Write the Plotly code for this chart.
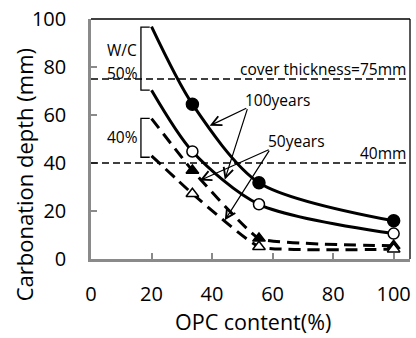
import plotly.graph_objects as go

# ---- data ----
opc_line = [20, 33.5, 55.5, 100]          # curve nodes (OPC %)
opc_pts = [33.5, 55.5, 100]               # measured points

y100_wc50_line = [96.8, 64.5, 31.8, 15.9]  # solid, filled circle
y100_wc50_pts = [64.5, 31.8, 15.9]
y100_wc40_line = [70.3, 44.8, 22.8, 10.6]  # solid, open circle
y100_wc40_pts = [44.8, 22.8, 10.6]
y50_wc50_line = [58.5, 36.9, 8.6, 5.5]     # dashed, filled triangle
y50_wc50_pts = [36.9, 8.6, 5.5]
y50_wc40_line = [43.0, 27.2, 5.1, 4.1]     # dashed, open triangle
y50_wc40_pts = [27.2, 5.1, 4.1]

x_ticks = [0, 20, 40, 60, 80, 100]
y_ticks = [0, 20, 40, 60, 80, 100]
cover_depth = 75
ref_depth = 40

FONT = "Open Sans"
fig = go.Figure()

def curve(y, dash, smooth):
    fig.add_trace(go.Scatter(x=opc_line, y=y, mode="lines", line_shape="spline",
                             line=dict(color="black", width=3, dash=dash, smoothing=smooth),
                             showlegend=False, hoverinfo="skip"))

curve(y100_wc50_line, "solid", 0.8)
curve(y100_wc40_line, "solid", 0.8)
curve(y50_wc50_line, "12px,7px", 0.35)
curve(y50_wc40_line, "12px,7px", 0.35)

fig.add_trace(go.Scatter(x=opc_pts, y=y100_wc50_pts, mode="markers",
                         marker=dict(symbol="circle", size=12, color="black",
                                     line=dict(color="black", width=1.5)), showlegend=False))
fig.add_trace(go.Scatter(x=opc_pts, y=y100_wc40_pts, mode="markers",
                         marker=dict(symbol="circle", size=11, color="white",
                                     line=dict(color="black", width=1.5)), showlegend=False))
fig.add_trace(go.Scatter(x=opc_pts, y=y50_wc50_pts, mode="markers",
                         marker=dict(symbol="triangle-up", size=11, color="black",
                                     line=dict(color="black", width=1.5)), showlegend=False))
fig.add_trace(go.Scatter(x=opc_pts, y=y50_wc40_pts, mode="markers",
                         marker=dict(symbol="triangle-up", size=11, color="white",
                                     line=dict(color="black", width=1.5)), showlegend=False))

# horizontal reference lines
for yv in (cover_depth, ref_depth):
    fig.add_shape(type="line", xref="paper", x0=0, x1=1, yref="y", y0=yv, y1=yv,
                  line=dict(color="black", width=1.3, dash="7px,4px"))

# top/right border
fig.add_shape(type="line", xref="paper", yref="paper", x0=0, x1=1, y0=1, y1=1,
              line=dict(color="black", width=1.3))
fig.add_shape(type="line", xref="paper", yref="paper", x0=1, x1=1, y0=0, y1=1,
              line=dict(color="black", width=1.3))

# brackets
for top, bot in ((96.6, 70.4), (58.6, 42.4)):
    fig.add_shape(type="path", xref="x", yref="y",
                  path=f"M 19.4 {top} L 16.5 {top} L 16.5 {bot} L 19.4 {bot}",
                  line=dict(color="black", width=1.3))

def label(x, y, text, anchor="left"):
    fig.add_annotation(x=x, y=y, text=text, showarrow=False, xanchor=anchor, yanchor="middle",
                       font=dict(family=FONT, size=15.5, color="black"))

label(104.6, 79.1, "cover thickness=75mm", "right")
label(104.6, 44.3, "40mm", "right")
label(50.3, 66.3, "100years")
label(57.8, 49.3, "50years")
label(4.6, 87.2, "W/C")
label(4.6, 77.6, "50%")
label(4.6, 50.9, "40%")

# arrows
def arrow(x0, y0, x1, y1):
    fig.add_annotation(x=x1, y=y1, ax=x0, ay=y0, xref="x", yref="y", axref="x", ayref="y",
                       text="", showarrow=True, arrowhead=5, arrowsize=1.6, arrowwidth=1.2,
                       arrowcolor="black", standoff=0)

arrow(51.8, 63.1, 39.2, 55.5)
arrow(51.8, 63.1, 44.2, 33.0)
arrow(59.2, 45.8, 35.9, 32.7)
arrow(59.2, 45.8, 44.2, 16.1)

# axis titles
fig.add_annotation(xref="paper", yref="paper", x=-0.209, y=0.35, text="Carbonation depth (mm)",
                   textangle=-90, showarrow=False, xanchor="center", yanchor="middle",
                   font=dict(family=FONT, size=22, color="black"))
fig.add_annotation(xref="paper", yref="paper", x=0.509, y=-0.262, text="OPC content(%)",
                   showarrow=False, xanchor="center", yanchor="middle",
                   font=dict(family=FONT, size=21.5, color="black"))

axis_common = dict(showgrid=False, zeroline=False, showline=True, linecolor="#8a8a8a", linewidth=2.5,
                   ticks="inside", ticklen=6, tickcolor="#8a8a8a", tickwidth=1.5,
                   tickfont=dict(family=FONT, size=20, color="black"))
fig.update_xaxes(range=[0, 105.4], tickvals=x_ticks, ticklabelstandoff=15, **axis_common)
fig.update_yaxes(range=[0, 100], tickvals=y_ticks, ticklabelstandoff=18, **axis_common)

fig.update_layout(width=416, height=338, margin=dict(l=91, r=5, t=16, b=79),
                  plot_bgcolor="white", paper_bgcolor="white", showlegend=False)

fig.write_html("out.html")
